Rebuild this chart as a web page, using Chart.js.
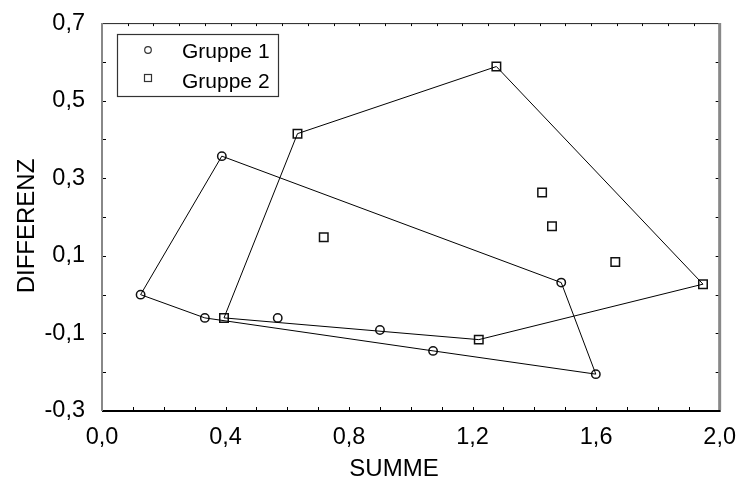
<!DOCTYPE html>
<html>
<head>
<meta charset="utf-8">
<script src="https://cdn.jsdelivr.net/npm/chart.js@4"></script>
<style>
  html, body { margin: 0; padding: 0; background: #fff; }
  #wrap { width: 740px; height: 480px; }
</style>
</head>
<body>
<div id="wrap"><canvas id="myChart"></canvas></div>
<script>
// Gruppe 1 (Kreise)
const g1X = [0.125, 0.333, 0.569, 0.900, 1.072, 1.599, 1.487, 0.388];
const g1Y = [0.000, -0.060, -0.060, -0.091, -0.145, -0.205, 0.031, 0.357];
const g1Hull = [0, 7, 6, 5, 4, 1, 0];

// Gruppe 2 (Quadrate)
const g2X = [0.395, 0.633, 1.277, 1.946, 1.220, 0.718, 1.425, 1.457, 1.662];
const g2Y = [-0.060, 0.415, 0.588, 0.027, -0.116, 0.148, 0.263, 0.176, 0.084];
const g2Hull = [0, 1, 2, 3, 4, 0];

const xTicks = [0.0, 0.4, 0.8, 1.2, 1.6, 2.0];
const yTicks = [-0.3, -0.1, 0.1, 0.3, 0.5, 0.7];
const seriesNames = ['Gruppe 1', 'Gruppe 2'];
const xTitle = 'SUMME';
const yTitle = 'DIFFERENZ';

const FONT = "'Liberation Sans', Arial, sans-serif";
const pts = (xs, ys) => xs.map((x, i) => ({x: x, y: ys[i]}));
const hull = (xs, ys, idx) => idx.map(i => ({x: xs[i], y: ys[i]}));
const fmt = v => Number(v).toFixed(1).replace('.', ',');

// Rahmen, innenliegende Teilstriche, Achsentitel und Legende
const framePlugin = {
  id: 'frame',
  afterDraw(chart) {
    const c = chart.ctx, a = chart.chartArea;
    const xs = chart.scales.x, ys = chart.scales.y;
    c.save();
    // Teilstriche
    c.strokeStyle = '#000';
    c.lineWidth = 1;
    c.beginPath();
    for (let i = 1; i < 20; i++) {
      const px = Math.round(xs.getPixelForValue(i * 0.1)) + 0.5;
      c.moveTo(px, a.bottom); c.lineTo(px, a.bottom - 4);
    }
    for (let i = 1; i < 24; i++) {
      const px = Math.round(xs.getPixelForValue(i * 2 / 24)) + 0.5;
      c.moveTo(px, a.top); c.lineTo(px, a.top + 3);
    }
    for (let i = 1; i < 10; i++) {
      const py = Math.round(ys.getPixelForValue(-0.3 + i * 0.1)) + 0.5;
      c.moveTo(a.left, py); c.lineTo(a.left + 4, py);
      c.moveTo(a.right, py); c.lineTo(a.right - 4, py);
    }
    c.stroke();
    // Rahmen
    c.lineWidth = 1;
    c.strokeStyle = '#222';
    c.beginPath(); c.moveTo(a.left, a.top + 0.5); c.lineTo(a.right, a.top + 0.5); c.stroke();
    c.lineWidth = 2;
    c.strokeStyle = '#000';
    c.beginPath(); c.moveTo(a.left, a.bottom); c.lineTo(a.right + 1, a.bottom); c.stroke();
    c.strokeStyle = '#888';
    c.beginPath(); c.moveTo(a.left, a.top); c.lineTo(a.left, a.bottom); c.stroke();
    c.lineWidth = 3;
    c.beginPath(); c.moveTo(a.right, a.top); c.lineTo(a.right, a.bottom - 1); c.stroke();

    // Achsentitel
    c.fillStyle = '#000';
    c.font = '24px ' + FONT;
    c.textAlign = 'center';
    c.textBaseline = 'alphabetic';
    c.fillText(xTitle, 394, 476);
    c.save();
    c.translate(33.5, 226);
    c.rotate(-Math.PI / 2);
    c.fillText(yTitle, 0, 0);
    c.restore();

    // Legende
    c.lineWidth = 1.2;
    c.strokeStyle = '#333';
    c.strokeRect(117.5, 34.5, 161, 62);
    c.beginPath();
    c.arc(148, 50, 3.3, 0, Math.PI * 2);
    c.stroke();
    c.strokeRect(144.5, 74.5, 7, 7);
    c.font = '21px ' + FONT;
    c.textAlign = 'left';
    c.fillText(seriesNames[0], 182, 58);
    c.fillText(seriesNames[1], 182, 88);
    c.restore();
  }
};

new Chart(document.getElementById('myChart'), {
  type: 'scatter',
  data: {
    datasets: [
      {
        label: seriesNames[0] + ' Hülle',
        data: hull(g1X, g1Y, g1Hull),
        showLine: true, pointRadius: 0,
        borderColor: '#000', borderWidth: 1
      },
      {
        label: seriesNames[1] + ' Hülle',
        data: hull(g2X, g2Y, g2Hull),
        showLine: true, pointRadius: 0,
        borderColor: '#000', borderWidth: 1
      },
      {
        label: seriesNames[0],
        data: pts(g1X, g1Y),
        pointStyle: 'circle', pointRadius: 4.2,
        borderColor: '#111', borderWidth: 1.5,
        backgroundColor: 'rgba(0,0,0,0)'
      },
      {
        label: seriesNames[1],
        data: pts(g2X, g2Y),
        pointStyle: 'rect', pointRadius: 6,
        borderColor: '#111', borderWidth: 1.5,
        backgroundColor: 'rgba(0,0,0,0)'
      }
    ]
  },
  options: {
    responsive: true,
    maintainAspectRatio: false,
    animation: false,
    events: [],
    layout: { padding: { top: 21, right: 20, left: 0, bottom: 0 } },
    plugins: {
      legend: { display: false },
      tooltip: { enabled: false }
    },
    scales: {
      x: {
        type: 'linear', min: 0, max: 2,
        afterBuildTicks: s => { s.ticks = xTicks.map(v => ({value: v})); },
        afterFit: s => { s.height = 69; },
        grid: { display: false },
        border: { display: false },
        ticks: {
          color: '#000', padding: 4,
          font: { family: FONT, size: 23.5 },
          maxRotation: 0, autoSkip: false,
          callback: v => fmt(v)
        }
      },
      y: {
        type: 'linear', min: -0.3, max: 0.7,
        afterBuildTicks: s => { s.ticks = yTicks.map(v => ({value: v})); },
        afterFit: s => { s.width = 102; },
        grid: { display: false },
        border: { display: false },
        ticks: {
          color: '#000', padding: 9,
          font: { family: FONT, size: 23.5 },
          autoSkip: false,
          callback: v => fmt(v)
        }
      }
    }
  },
  plugins: [framePlugin]
});
</script>
</body>
</html>
